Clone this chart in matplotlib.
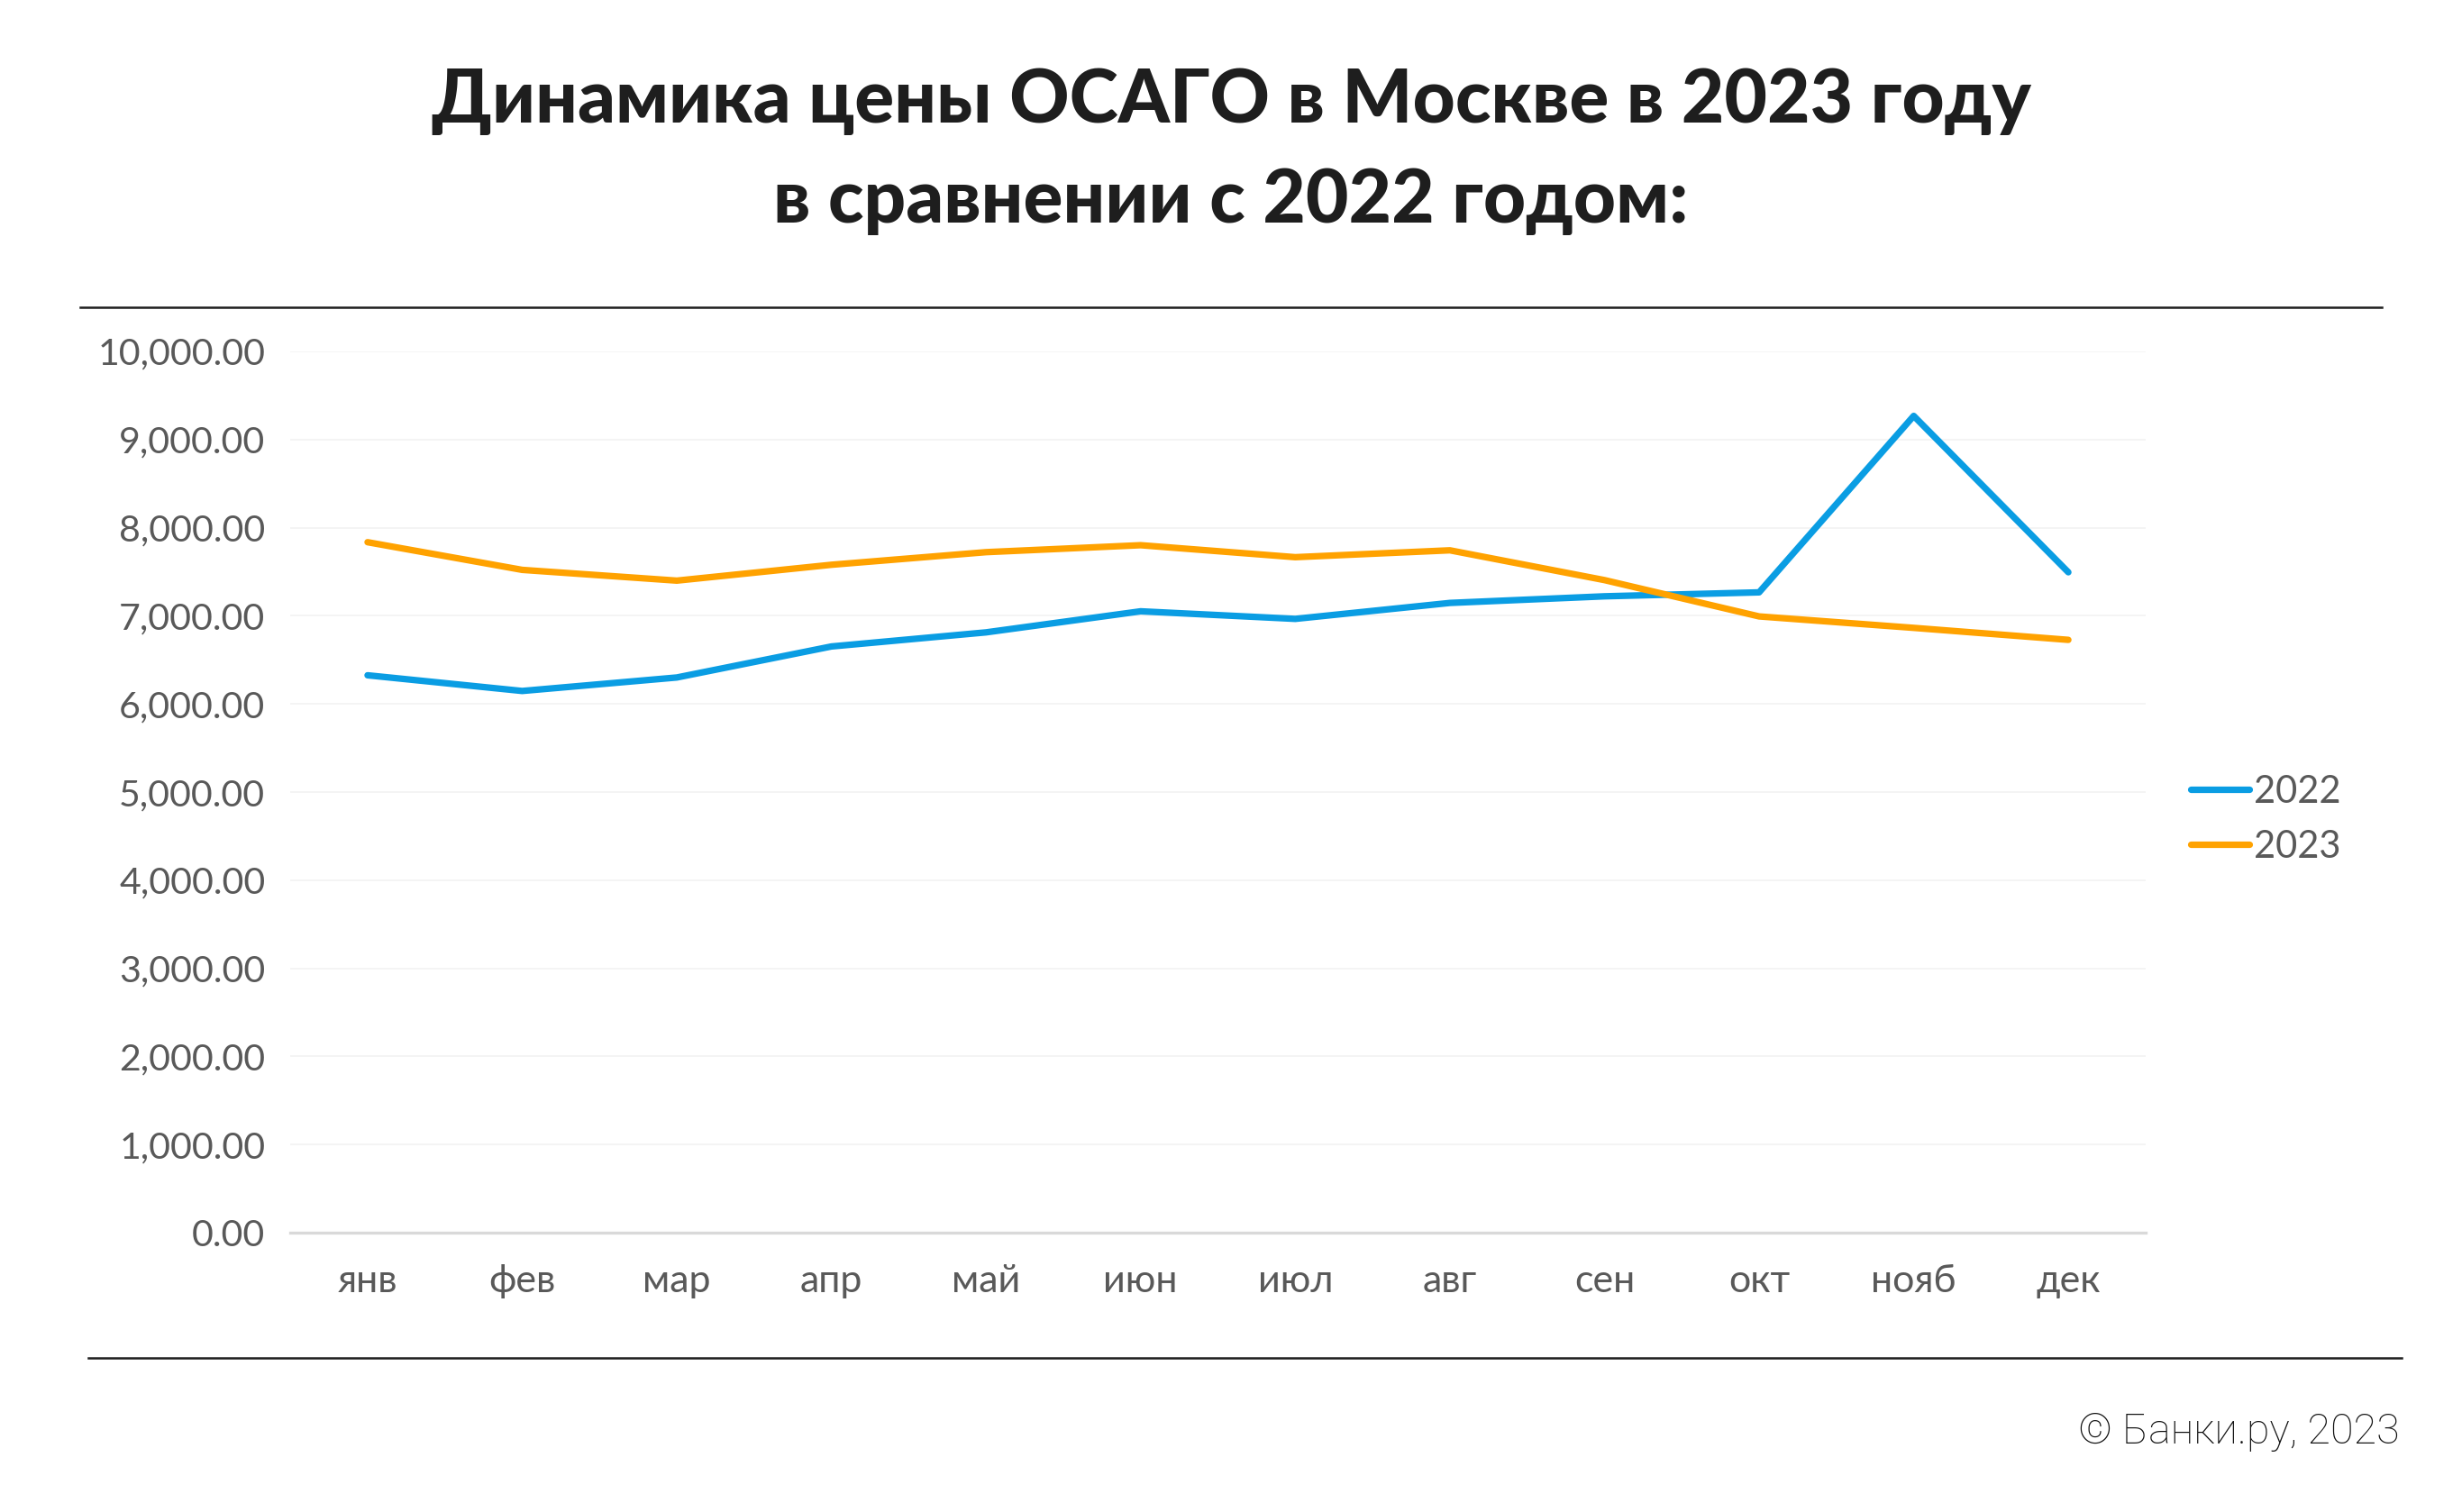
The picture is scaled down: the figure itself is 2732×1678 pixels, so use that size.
import numpy as np
import matplotlib.pyplot as plt
from matplotlib.lines import Line2D
from matplotlib.ticker import FuncFormatter

# данные (цены ОСАГО, руб.)
months = ['янв', 'фев', 'мар', 'апр', 'май', 'июн', 'июл', 'авг', 'сен', 'окт', 'нояб', 'дек']
price_2022 = [6325, 6147, 6300, 6652, 6812, 7051, 6965, 7146, 7221, 7266, 9268, 7494]
price_2023 = [7835, 7521, 7399, 7579, 7722, 7801, 7665, 7743, 7405, 6993, 6863, 6727]
yticks = np.arange(0, 10001, 1000)

blue = '#0A9DE3'
orange = '#FFA200'
grey = '#595959'

plt.rcParams['font.family'] = ['Lato', 'DejaVu Sans']

fig = plt.figure(figsize=(13.66, 8.39), dpi=200)
fig.patch.set_facecolor('white')

ax = fig.add_axes([0.1179, 0.1847, 0.7536, 0.5829])
x = np.arange(len(months))
ax.plot(x, price_2022, color=blue, linewidth=2.6, label='2022', solid_capstyle='round')
ax.plot(x, price_2023, color=orange, linewidth=2.6, label='2023', solid_capstyle='round')

ax.set_xlim(-0.5, len(months) - 0.5)
ax.set_ylim(0, 10000)
ax.set_yticks(yticks)
ax.yaxis.set_major_formatter(FuncFormatter(lambda v, p: f'{v:,.2f}'))
ax.set_xticks(x)
ax.set_xticklabels(months)
ax.tick_params(axis='both', length=0, labelcolor=grey)
ax.tick_params(axis='y', pad=10, labelsize=14.8)
ax.tick_params(axis='x', pad=12.5, labelsize=15.5)

# сетка
ax.grid(axis='y', color='#F2F2F2', linewidth=0.6)
ax.set_axisbelow(True)
for s in ['top', 'right', 'left']:
    ax.spines[s].set_visible(False)
ax.spines['bottom'].set_color('#D9D9D9')
ax.spines['bottom'].set_linewidth(1.2)

leg = ax.legend(loc='center left', bbox_to_anchor=(0.890, 0.458), bbox_transform=fig.transFigure,
                frameon=False, fontsize=15, handlelength=1.55, handletextpad=0.12,
                labelspacing=0.55, borderpad=0, borderaxespad=0)
for t in leg.get_texts():
    t.set_color(grey)

# заголовок
fig.text(0.5, 0.933, 'Динамика цены ОСАГО в Москве в 2023 году', ha='center', va='center',
         fontsize=29.5, fontweight='black', color='#1E1E1E')
fig.text(0.5, 0.867, 'в сравнении с 2022 годом:', ha='center', va='center',
         fontsize=29.5, fontweight='black', color='#1E1E1E')

# разделительные линии
fig.add_artist(Line2D([0.0326, 0.9674], [0.7968, 0.7968], color='#1E1E1E', linewidth=0.9))
fig.add_artist(Line2D([0.0359, 0.9755], [0.1019, 0.1019], color='#1E1E1E', linewidth=0.9))

fig.text(0.9745, 0.053, '© Банки.ру, 2023', ha='right', va='center', fontsize=16.8,
         fontweight='light', color='#111111', family=['Roboto', 'DejaVu Sans'])

fig.savefig('out.png', dpi=200, facecolor='white')
